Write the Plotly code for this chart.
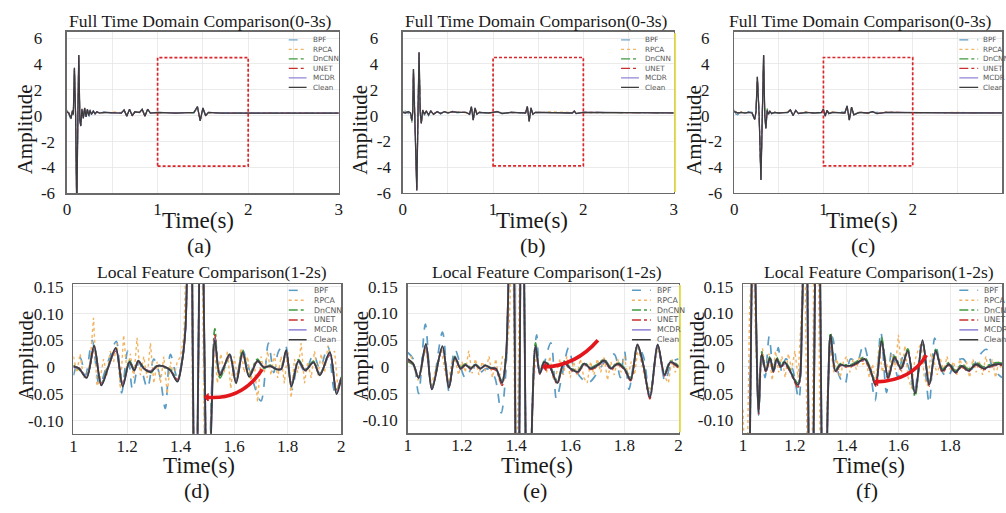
import plotly.graph_objects as go

W, H = 1006, 513

# ======================= DATA =======================
methods = ["BPF", "RPCA", "DnCNN", "UNET", "MCDR", "Clean"]

# ---- panel (a): full time domain 0-3 s ----
t_a = [0.000, 0.020, 0.045, 0.060, 0.070, 0.082, 0.095, 0.108, 0.120, 0.130, 0.142, 0.152, 0.165, 0.180,
       0.195, 0.210, 0.225, 0.240, 0.255, 0.270, 0.290, 0.310, 0.330, 0.360, 0.400, 0.500, 0.600, 0.630,
       0.660, 0.690, 0.720, 0.750, 0.800, 0.830, 0.860, 0.890, 0.920, 1.000, 1.200, 1.400, 1.440, 1.470,
       1.500, 1.530, 1.560, 1.700, 2.000, 2.500, 3.000]
bpf_a = [0.45, 0.10, -0.35, 0.30, 0.20, 3.50, -0.10, -7.30, 0.10, 4.50, -0.40, -0.70, 0.40, -0.30, 0.50, -0.20,
         0.40, -0.30, 0.50, 0.00, 0.40, 0.10, 0.35, 0.15, 0.30, 0.20, 0.25, 0.40, 0.00, 0.45, 0.05, 0.30, 0.20,
         0.45, 0.00, 0.45, 0.25, 0.20, 0.25, 0.20, 0.60, -0.30, 0.55, 0.05, 0.20, 0.25, 0.20, 0.22, 0.20]
rpca_a = [0.35, 0.25, -0.10, 0.35, 0.15, 3.60, 0.05, -7.40, 0.05, 4.60, -0.25, -0.75, 0.45, -0.15, 0.55, -0.05,
          0.45, 0.05, 0.35, 0.15, 0.30, 0.20, 0.25, 0.25, 0.20, 0.30, 0.25, 0.40, 0.00, 0.45, 0.05, 0.25, 0.30,
          0.45, 0.00, 0.45, 0.25, 0.20, 0.25, 0.20, 0.65, -0.35, 0.55, 0.05, 0.20, 0.25, 0.20, 0.25, 0.20]
dncnn_a = [0.30, 0.22, -0.25, 0.45, 0.05, 3.65, 0.00, -7.50, 0.00, 4.65, -0.35, -0.75, 0.55, -0.15, 0.55, -0.05,
           0.45, 0.05, 0.40, 0.15, 0.30, 0.20, 0.28, 0.22, 0.25, 0.24, 0.22, 0.42, 0.00, 0.48, 0.02, 0.30, 0.24,
           0.48, 0.00, 0.48, 0.22, 0.24, 0.21, 0.24, 0.68, -0.38, 0.58, 0.02, 0.24, 0.21, 0.22, 0.21, 0.20]
unet_a = [0.28, 0.20, -0.22, 0.38, 0.12, 3.68, 0.00, -7.50, 0.00, 4.68, -0.32, -0.78, 0.48, -0.18, 0.58, -0.08,
          0.48, 0.02, 0.38, 0.12, 0.33, 0.17, 0.29, 0.21, 0.25, 0.25, 0.21, 0.44, -0.03, 0.49, 0.01, 0.29, 0.25,
          0.49, -0.03, 0.49, 0.21, 0.25, 0.21, 0.25, 0.69, -0.39, 0.59, 0.01, 0.25, 0.21, 0.22, 0.20, 0.20]
mcdr_a = [0.30, 0.20, -0.21, 0.40, 0.10, 3.70, 0.00, -7.50, 0.00, 4.70, -0.30, -0.80, 0.50, -0.20, 0.59, -0.10,
          0.50, 0.00, 0.40, 0.10, 0.35, 0.15, 0.30, 0.20, 0.25, 0.25, 0.20, 0.45, -0.05, 0.50, 0.00, 0.30, 0.25,
          0.50, -0.05, 0.50, 0.20, 0.25, 0.20, 0.25, 0.70, -0.40, 0.60, 0.00, 0.25, 0.20, 0.22, 0.20, 0.20]
clean_a = [0.30, 0.20, -0.20, 0.40, 0.10, 3.70, 0.00, -7.50, 0.00, 4.70, -0.30, -0.80, 0.50, -0.20, 0.60, -0.10,
           0.50, 0.00, 0.40, 0.10, 0.35, 0.15, 0.30, 0.20, 0.25, 0.25, 0.20, 0.45, -0.05, 0.50, 0.00, 0.30, 0.25,
           0.50, -0.05, 0.50, 0.20, 0.25, 0.20, 0.25, 0.70, -0.40, 0.60, 0.00, 0.25, 0.20, 0.22, 0.20, 0.20]

# ---- panel (b) ----
t_b = [0.000, 0.030, 0.060, 0.085, 0.100, 0.110, 0.118, 0.135, 0.155, 0.168, 0.180, 0.193, 0.205, 0.220,
       0.240, 0.260, 0.285, 0.310, 0.340, 0.380, 0.420, 0.460, 0.500, 0.550, 0.600, 0.700, 0.740, 0.760,
       0.780, 0.800, 0.820, 0.850, 0.950, 1.050, 1.100, 1.200, 1.360, 1.380, 1.400, 1.420, 1.440, 1.470,
       1.600, 1.880, 1.900, 1.920, 2.000, 2.500, 3.000]
bpf_b = [0.30, 0.35, 0.15, 0.35, -0.30, 0.20, 3.40, 0.10, -5.60, 0.10, 4.70, 0.30, -0.50, 0.50, 0.00, 0.45,
         -0.05, 0.40, 0.05, 0.35, 0.10, 0.35, 0.15, 0.35, 0.20, 0.25, 0.15, 0.60, -0.25, 0.50, 0.15, 0.20, 0.25,
         0.25, 0.20, 0.25, 0.20, 0.60, -0.35, 0.50, 0.15, 0.20, 0.25, 0.20, 0.30, 0.20, 0.25, 0.20, 0.20]
rpca_b = [0.30, 0.25, 0.35, 0.15, -0.35, 0.25, 3.50, 0.05, -5.70, 0.05, 4.80, 0.25, -0.55, 0.45, 0.15, 0.30,
          0.10, 0.30, 0.15, 0.25, 0.20, 0.25, 0.25, 0.25, 0.30, 0.20, 0.15, 0.65, -0.30, 0.55, 0.15, 0.30, 0.15,
          0.35, 0.20, 0.20, 0.25, 0.65, -0.40, 0.55, 0.15, 0.20, 0.30, 0.25, 0.30, 0.20, 0.20, 0.25, 0.20]
dncnn_b = [0.25, 0.22, 0.32, 0.18, -0.55, 0.35, 3.55, 0.00, -5.75, 0.00, 4.85, 0.22, -0.62, 0.42, 0.12, 0.33,
           0.07, 0.33, 0.12, 0.29, 0.17, 0.29, 0.21, 0.29, 0.25, 0.25, 0.12, 0.68, -0.33, 0.58, 0.12, 0.25, 0.21,
           0.29, 0.17, 0.25, 0.21, 0.68, -0.43, 0.58, 0.12, 0.25, 0.24, 0.21, 0.33, 0.17, 0.24, 0.22, 0.20]
unet_b = [0.24, 0.21, 0.29, 0.21, -0.42, 0.31, 3.58, 0.00, -5.80, 0.00, 4.88, 0.21, -0.61, 0.41, 0.11, 0.34,
          0.06, 0.34, 0.11, 0.30, 0.16, 0.30, 0.20, 0.30, 0.25, 0.25, 0.11, 0.69, -0.34, 0.59, 0.11, 0.25, 0.20,
          0.30, 0.16, 0.25, 0.20, 0.69, -0.44, 0.59, 0.11, 0.25, 0.25, 0.20, 0.34, 0.16, 0.25, 0.22, 0.20]
mcdr_b = [0.25, 0.20, 0.30, 0.20, -0.41, 0.30, 3.60, 0.00, -5.80, 0.00, 4.90, 0.20, -0.60, 0.40, 0.10, 0.35,
          0.05, 0.35, 0.10, 0.30, 0.15, 0.30, 0.20, 0.30, 0.25, 0.25, 0.10, 0.70, -0.35, 0.60, 0.10, 0.25, 0.20,
          0.30, 0.15, 0.25, 0.20, 0.70, -0.45, 0.60, 0.10, 0.25, 0.25, 0.20, 0.35, 0.15, 0.25, 0.22, 0.20]
clean_b = [0.25, 0.20, 0.30, 0.20, -0.40, 0.30, 3.60, 0.00, -5.80, 0.00, 4.90, 0.20, -0.60, 0.40, 0.10, 0.35,
           0.05, 0.35, 0.10, 0.30, 0.15, 0.30, 0.20, 0.30, 0.25, 0.25, 0.10, 0.70, -0.35, 0.60, 0.10, 0.25, 0.20,
           0.30, 0.15, 0.25, 0.20, 0.70, -0.45, 0.60, 0.10, 0.25, 0.25, 0.20, 0.35, 0.15, 0.25, 0.22, 0.20]

# ---- panel (c) ----
t_c = [0.000, 0.020, 0.040, 0.080, 0.120, 0.160, 0.200, 0.230, 0.245, 0.260, 0.280, 0.300, 0.315, 0.330,
       0.343, 0.355, 0.370, 0.385, 0.400, 0.420, 0.450, 0.500, 0.600, 0.630, 0.660, 0.690, 0.720, 0.800,
       0.900, 0.980, 1.000, 1.020, 1.040, 1.060, 1.100, 1.200, 1.240, 1.265, 1.290, 1.315, 1.340, 1.400,
       1.500, 1.550, 1.600, 1.700, 2.000, 2.500, 3.000]
bpf_c = [0.45, 0.10, 0.05, 0.30, 0.15, 0.30, 0.25, -0.20, 0.20, 2.85, 0.10, -4.85, 0.10, 4.55, 0.10, -0.90,
         0.30, 0.20, 0.30, 0.20, 0.20, 0.25, 0.20, 0.40, 0.05, 0.35, 0.20, 0.20, 0.25, 0.20, 0.45, 0.00, 0.35,
         0.20, 0.20, 0.30, 0.25, 0.65, -0.25, 0.55, 0.10, 0.20, 0.25, 0.25, 0.20, 0.20, 0.25, 0.20, 0.20]
rpca_c = [0.35, 0.30, 0.15, 0.30, 0.25, 0.20, 0.25, -0.25, 0.25, 2.90, 0.05, -4.90, 0.15, 4.60, 0.05, -0.95,
          0.35, 0.15, 0.30, 0.20, 0.30, 0.15, 0.30, 0.40, 0.05, 0.35, 0.20, 0.30, 0.15, 0.30, 0.45, 0.00, 0.35,
          0.20, 0.30, 0.20, 0.25, 0.70, -0.30, 0.60, 0.10, 0.30, 0.15, 0.25, 0.20, 0.30, 0.20, 0.25, 0.20]
dncnn_c = [0.32, 0.24, 0.22, 0.24, 0.21, 0.24, 0.21, -0.28, 0.32, 2.95, 0.02, -4.95, 0.22, 4.65, 0.02, -0.95,
           0.55, 0.12, 0.33, 0.17, 0.24, 0.21, 0.24, 0.43, 0.02, 0.38, 0.17, 0.24, 0.21, 0.24, 0.48, -0.03, 0.38,
           0.17, 0.24, 0.24, 0.21, 0.72, -0.33, 0.63, 0.07, 0.24, 0.21, 0.29, 0.17, 0.24, 0.22, 0.20, 0.20]
unet_c = [0.29, 0.25, 0.21, 0.25, 0.21, 0.25, 0.21, -0.29, 0.29, 2.98, 0.01, -4.98, 0.21, 4.68, 0.01, -0.98,
          0.39, 0.11, 0.34, 0.16, 0.25, 0.21, 0.25, 0.44, 0.01, 0.39, 0.16, 0.25, 0.21, 0.25, 0.49, -0.04, 0.39,
          0.16, 0.25, 0.25, 0.21, 0.74, -0.34, 0.64, 0.06, 0.25, 0.21, 0.29, 0.16, 0.25, 0.22, 0.20, 0.20]
mcdr_c = [0.30, 0.25, 0.20, 0.25, 0.20, 0.25, 0.20, -0.30, 0.30, 3.00, 0.00, -5.00, 0.20, 4.70, 0.00, -1.00,
          0.40, 0.10, 0.35, 0.15, 0.25, 0.20, 0.25, 0.45, 0.00, 0.40, 0.15, 0.25, 0.20, 0.25, 0.50, -0.05, 0.40,
          0.15, 0.25, 0.25, 0.20, 0.75, -0.35, 0.65, 0.05, 0.25, 0.20, 0.30, 0.15, 0.25, 0.22, 0.20, 0.20]
clean_c = [0.30, 0.25, 0.20, 0.25, 0.20, 0.25, 0.20, -0.30, 0.30, 3.00, 0.00, -5.00, 0.20, 4.70, 0.00, -1.00,
           0.40, 0.10, 0.35, 0.15, 0.25, 0.20, 0.25, 0.45, 0.00, 0.40, 0.15, 0.25, 0.20, 0.25, 0.50, -0.05, 0.40,
           0.15, 0.25, 0.25, 0.20, 0.75, -0.35, 0.65, 0.05, 0.25, 0.20, 0.30, 0.15, 0.25, 0.22, 0.20, 0.20]

# ---- RPCA sampling grid for the local (1-2 s) panels ----
t_rpca = [round(1 + 0.0125 * i, 4) for i in range(81)]

# ---- panel (d): local 1-2 s ----
t_d = [1.000, 1.020, 1.049, 1.077, 1.104, 1.130, 1.158, 1.184, 1.209, 1.227, 1.242, 1.262, 1.288, 1.312,
       1.335, 1.362, 1.388, 1.405, 1.418, 1.428, 1.437, 1.446, 1.455, 1.466, 1.477, 1.490, 1.502, 1.515,
       1.528, 1.547, 1.583, 1.607, 1.632, 1.656, 1.687, 1.710, 1.735, 1.755, 1.775, 1.794, 1.814, 1.840,
       1.865, 1.896, 1.920, 1.957, 1.982, 2.000]
clean_d = [0.001, -0.002, -0.020, 0.040, -0.034, 0.000, 0.036, -0.036, 0.010, -0.006, 0.012, -0.002, -0.009,
           0.002, 0.002, -0.006, -0.027, 0.009, 0.070, 0.300, 0.450, 0.000, -0.450, 0.000, 0.420, 0.000, -0.380,
           -0.100, 0.050, -0.015, 0.024, -0.030, 0.028, -0.018, 0.012, 0.000, 0.002, -0.003, -0.004, 0.032,
           -0.036, 0.012, -0.006, 0.009, -0.015, 0.028, -0.050, -0.020]
dncnn_d = [0.004, -0.004, -0.016, 0.036, -0.030, 0.003, 0.032, -0.032, 0.013, -0.004, 0.010, 0.000, -0.011,
           0.004, 0.000, -0.004, -0.024, 0.011, 0.072, 0.300, 0.450, 0.000, -0.450, 0.000, 0.420, 0.000, -0.380,
           -0.090, 0.072, -0.020, 0.020, -0.026, 0.032, -0.014, 0.015, -0.002, 0.004, -0.005, -0.002, 0.028,
           -0.032, 0.014, -0.004, 0.011, -0.012, 0.024, -0.045, -0.018]
unet_d = [0.002, -0.001, -0.017, 0.032, -0.030, 0.001, 0.030, -0.030, 0.008, -0.004, 0.010, -0.001, -0.007,
          0.003, 0.001, -0.005, -0.023, 0.008, 0.068, 0.300, 0.450, 0.000, -0.450, 0.000, 0.420, 0.000, -0.380,
          -0.095, 0.060, -0.012, 0.020, -0.025, 0.024, -0.015, 0.010, 0.001, 0.002, -0.002, -0.003, 0.026,
          -0.030, 0.010, -0.005, 0.008, -0.012, 0.022, -0.042, -0.018]
mcdr_d = [0.000, -0.002, -0.019, 0.038, -0.033, 0.000, 0.034, -0.034, 0.009, -0.006, 0.011, -0.002, -0.008,
          0.002, 0.002, -0.006, -0.026, 0.009, 0.070, 0.300, 0.450, 0.000, -0.450, 0.000, 0.420, 0.000, -0.380,
          -0.100, 0.052, -0.014, 0.022, -0.028, 0.026, -0.017, 0.011, 0.000, 0.002, -0.003, -0.004, 0.030,
          -0.034, 0.011, -0.006, 0.009, -0.014, 0.026, -0.048, -0.020]
t_bpf_d = [1.000, 1.025, 1.045, 1.070, 1.097, 1.129, 1.160, 1.180, 1.202, 1.221, 1.245, 1.276, 1.300, 1.322,
           1.343, 1.362, 1.388, 1.405, 1.418, 1.434, 1.456, 1.476, 1.500, 1.515, 1.528, 1.547, 1.583, 1.607,
           1.632, 1.660, 1.700, 1.728, 1.748, 1.766, 1.790, 1.816, 1.840, 1.865, 1.896, 1.920, 1.950, 1.976, 2.000]
bpf_d = [-0.015, 0.018, -0.015, 0.050, -0.033, 0.010, 0.048, -0.048, 0.030, -0.042, 0.009, -0.039, 0.015,
         -0.015, -0.077, 0.024, -0.020, 0.010, 0.070, 0.550, -0.550, 0.500, -0.500, -0.050, 0.055, -0.010, 0.024,
         -0.020, 0.030, -0.010, -0.063, 0.045, -0.010, 0.030, 0.042, -0.042, 0.009, -0.009, 0.024, -0.003, 0.039,
         -0.045, -0.020]
rpca_d = [0.020, -0.010, 0.025, -0.020, -0.015, 0.010, 0.092, -0.035, -0.020, 0.015, -0.015, 0.030, 0.010,
          0.045, -0.040, 0.060, -0.010, 0.025, -0.020, 0.055, -0.015, 0.020, -0.020, 0.045, -0.030, 0.010,
          -0.030, 0.020, -0.050, 0.010, -0.020, 0.010, 0.020, 0.060, 0.300, 0.400, -0.450, -0.300, 0.450,
          -0.100, -0.400, -0.100, 0.040, -0.030, 0.025, -0.010, 0.030, -0.040, 0.020, -0.020, 0.035, -0.010,
          0.020, -0.025, 0.010, -0.065, 0.020, -0.010, 0.030, -0.015, 0.025, -0.020, 0.020, -0.030, 0.030,
          -0.057, 0.015, -0.010, 0.045, -0.030, 0.010, -0.020, 0.030, -0.015, 0.025, -0.010, 0.040, 0.020,
          0.030, -0.040, -0.020]

# ---- panel (e) ----
t_e = [1.000, 1.020, 1.040, 1.067, 1.089, 1.128, 1.152, 1.174, 1.195, 1.213, 1.232, 1.250, 1.268, 1.287,
       1.305, 1.325, 1.348, 1.362, 1.370, 1.385, 1.405, 1.422, 1.445, 1.460, 1.472, 1.488, 1.504, 1.525,
       1.552, 1.577, 1.600, 1.628, 1.652, 1.676, 1.700, 1.726, 1.750, 1.775, 1.799, 1.823, 1.848, 1.870,
       1.894, 1.923, 1.948, 1.970, 2.000]
clean_e = [0.015, 0.006, -0.021, 0.043, -0.042, 0.039, -0.039, 0.018, -0.003, 0.004, -0.003, 0.004, -0.003,
           0.003, -0.002, -0.003, -0.030, 0.015, 0.120, 0.550, -0.500, 0.450, -0.500, -0.080, 0.039, -0.012,
           0.009, 0.000, -0.030, 0.009, -0.003, -0.009, 0.006, -0.003, 0.003, 0.012, -0.003, 0.006, -0.003,
           -0.024, 0.042, 0.003, -0.057, 0.042, -0.015, 0.009, 0.000]
dncnn_e = [0.010, 0.004, -0.018, 0.040, -0.038, 0.036, -0.036, 0.020, -0.001, 0.006, -0.001, 0.005, -0.002,
           0.004, -0.001, -0.004, -0.026, 0.017, 0.120, 0.550, -0.500, 0.450, -0.500, -0.070, 0.045, -0.009,
           0.011, 0.002, -0.026, 0.011, -0.001, -0.007, 0.008, -0.001, 0.005, 0.014, -0.001, 0.008, -0.001,
           -0.020, 0.038, 0.005, -0.052, 0.038, -0.012, 0.011, 0.002]
unet_e = [0.012, 0.005, -0.019, 0.038, -0.040, 0.035, -0.037, 0.016, -0.004, 0.003, -0.004, 0.003, -0.004,
          0.002, -0.003, -0.006, -0.035, 0.012, 0.120, 0.550, -0.500, 0.450, -0.500, -0.085, 0.035, -0.014,
          0.007, -0.002, -0.032, 0.007, -0.005, -0.011, 0.004, -0.005, 0.001, 0.010, -0.005, 0.004, -0.005,
          -0.026, 0.040, 0.001, -0.060, 0.040, -0.017, 0.007, -0.002]
mcdr_e = [0.014, 0.006, -0.020, 0.041, -0.041, 0.038, -0.038, 0.018, -0.003, 0.004, -0.003, 0.004, -0.003,
          0.003, -0.002, -0.003, -0.029, 0.015, 0.120, 0.550, -0.500, 0.450, -0.500, -0.080, 0.038, -0.012,
          0.009, 0.000, -0.029, 0.009, -0.003, -0.009, 0.006, -0.003, 0.003, 0.012, -0.003, 0.006, -0.003,
          -0.023, 0.041, 0.003, -0.056, 0.041, -0.015, 0.009, 0.000]
t_bpf_e = [1.000, 1.020, 1.040, 1.065, 1.089, 1.128, 1.152, 1.174, 1.213, 1.240, 1.262, 1.290, 1.320, 1.345,
           1.362, 1.370, 1.385, 1.405, 1.422, 1.445, 1.460, 1.476, 1.490, 1.528, 1.549, 1.570, 1.594, 1.615,
           1.665, 1.695, 1.726, 1.762, 1.785, 1.800, 1.817, 1.848, 1.870, 1.894, 1.923, 1.950, 1.975, 2.000]
bpf_e = [0.027, 0.015, -0.050, 0.080, -0.042, 0.065, -0.045, 0.033, -0.021, 0.000, -0.012, -0.003, -0.018,
         -0.086, -0.010, 0.120, 0.550, -0.500, 0.450, -0.500, -0.080, 0.060, -0.015, 0.045, -0.060, -0.015,
         0.036, -0.003, -0.030, -0.015, 0.009, 0.024, -0.020, 0.030, -0.042, 0.039, 0.020, -0.057, 0.042,
         -0.027, 0.009, 0.015]
rpca_e = [0.010, 0.020, -0.005, -0.025, -0.010, 0.035, 0.010, -0.035, -0.010, 0.015, 0.030, -0.010, -0.030,
          0.010, 0.015, -0.015, 0.010, -0.010, 0.030, -0.012, 0.015, -0.015, 0.010, -0.008, 0.020, -0.020,
          0.015, -0.025, 0.020, 0.010, 0.080, 0.300, -0.400, 0.200, 0.350, -0.300, -0.400, -0.050, 0.030,
          -0.015, 0.010, -0.010, 0.020, -0.025, -0.010, 0.015, -0.015, 0.020, -0.020, 0.010, -0.015, 0.015,
          -0.020, -0.030, 0.010, -0.015, 0.015, -0.010, 0.020, -0.025, 0.010, -0.015, 0.015, -0.010, 0.020,
          -0.020, 0.010, -0.015, 0.035, 0.010, -0.020, -0.035, -0.045, 0.010, 0.040, 0.010, -0.020, -0.030,
          0.015, -0.010, 0.010]

# ---- panel (f) ----
t_f = [1.000, 1.015, 1.040, 1.060, 1.072, 1.088, 1.104, 1.117, 1.130, 1.146, 1.160, 1.180, 1.212, 1.228,
       1.240, 1.262, 1.288, 1.313, 1.328, 1.338, 1.357, 1.375, 1.395, 1.420, 1.445, 1.469, 1.490, 1.512,
       1.535, 1.560, 1.585, 1.610, 1.636, 1.664, 1.693, 1.719, 1.744, 1.770, 1.795, 1.820, 1.845, 1.870,
       1.900, 1.930, 1.955, 1.980, 2.000]
clean_f = [-0.250, -0.500, 0.300, -0.085, 0.024, -0.008, 0.017, -0.008, 0.015, 0.000, 0.009, -0.006, -0.034,
           0.100, 0.550, -0.500, 0.500, -0.500, -0.050, 0.060, -0.008, 0.004, 0.002, 0.003, 0.009, 0.015,
           -0.003, -0.033, 0.048, -0.020, 0.018, -0.003, 0.030, -0.050, 0.050, -0.033, 0.030, -0.007, 0.005,
           -0.010, 0.002, -0.007, 0.005, -0.003, 0.002, 0.005, 0.005]
dncnn_f = [-0.250, -0.500, 0.300, -0.080, 0.028, -0.005, 0.020, -0.005, 0.018, 0.003, 0.011, -0.003, -0.030,
           0.100, 0.550, -0.500, 0.500, -0.500, -0.045, 0.064, -0.005, 0.006, 0.004, 0.005, 0.012, 0.018,
           0.000, -0.030, 0.055, -0.017, 0.020, 0.000, 0.034, -0.055, 0.046, -0.030, 0.033, -0.004, 0.008,
           -0.007, 0.005, -0.004, 0.008, 0.000, 0.005, 0.008, 0.007]
unet_f = [-0.250, -0.500, 0.300, -0.088, 0.020, -0.010, 0.014, -0.010, 0.012, -0.002, 0.006, -0.008, -0.038,
          0.100, 0.550, -0.500, 0.500, -0.500, -0.055, 0.055, -0.010, 0.002, 0.000, 0.001, 0.007, 0.012,
          -0.006, -0.036, 0.044, -0.023, 0.015, -0.006, 0.027, -0.047, 0.047, -0.036, 0.027, -0.010, 0.003,
          -0.012, 0.000, -0.009, 0.003, -0.005, 0.000, 0.003, 0.003]
mcdr_f = [-0.250, -0.500, 0.300, -0.084, 0.023, -0.008, 0.016, -0.008, 0.014, 0.000, 0.009, -0.006, -0.033,
          0.100, 0.550, -0.500, 0.500, -0.500, -0.050, 0.058, -0.008, 0.004, 0.002, 0.003, 0.009, 0.014,
          -0.003, -0.032, 0.046, -0.019, 0.017, -0.003, 0.029, -0.048, 0.048, -0.032, 0.029, -0.007, 0.005,
          -0.010, 0.002, -0.007, 0.005, -0.003, 0.002, 0.005, 0.005]
t_bpf_f = [1.000, 1.015, 1.040, 1.060, 1.072, 1.085, 1.101, 1.118, 1.136, 1.150, 1.165, 1.190, 1.215, 1.228,
           1.240, 1.262, 1.288, 1.313, 1.330, 1.345, 1.370, 1.393, 1.415, 1.440, 1.465, 1.490, 1.510, 1.532,
           1.554, 1.575, 1.598, 1.618, 1.640, 1.661, 1.690, 1.719, 1.740, 1.765, 1.790, 1.820, 1.850, 1.880,
           1.910, 1.940, 1.965, 2.000]
bpf_f = [-0.200, -0.450, 0.300, -0.090, 0.027, -0.020, 0.057, -0.015, 0.036, -0.010, 0.015, -0.002, -0.060,
         0.100, 0.550, -0.500, 0.500, -0.500, -0.020, 0.056, -0.015, -0.033, 0.015, 0.009, 0.042, -0.005,
         -0.063, 0.066, -0.048, 0.033, -0.020, 0.020, -0.002, -0.048, 0.042, -0.068, 0.054, -0.005, -0.020,
         0.010, 0.015, -0.005, 0.020, 0.033, -0.003, -0.020]
rpca_f = [-0.080, -0.300, 0.100, 0.250, 0.020, -0.050, 0.035, -0.010, 0.025, -0.025, 0.030, -0.010, 0.020,
          -0.020, 0.025, -0.005, 0.030, -0.020, 0.100, 0.300, -0.300, -0.400, 0.300, 0.400, -0.300, -0.400,
          -0.050, 0.040, -0.010, 0.015, -0.020, 0.010, 0.020, -0.010, 0.015, -0.005, 0.020, 0.005, 0.010,
          -0.020, 0.005, -0.030, 0.040, -0.010, 0.015, -0.010, 0.025, -0.005, 0.060, -0.010, 0.040, -0.020,
          -0.040, 0.010, 0.030, 0.045, -0.020, -0.035, 0.025, 0.010, -0.015, 0.015, -0.010, 0.020, -0.005,
          0.010, -0.015, 0.015, -0.005, 0.010, -0.020, 0.015, -0.010, 0.010, -0.015, 0.020, -0.010, 0.015,
          -0.020, 0.010, -0.005]

# ======================= STYLE / LAYOUT =======================
SERIF = "Liberation Serif, Times New Roman, serif"
SANS = "DejaVu Sans, Arial, sans-serif"
NB = "\u00a0"
colors = {"BPF": "#5a9cc4", "RPCA": "#f3b462", "DnCNN": "#3f9a3f",
          "UNET": "#c8312b", "MCDR": "#8b7fd6", "Clean": "#3d3d3d"}
dashes = {"BPF": "dash", "RPCA": "dot", "DnCNN": "dashdot",
          "UNET": "dashdot", "MCDR": "solid", "Clean": "solid"}
w_top = {"BPF": 1.1, "RPCA": 1.1, "DnCNN": 1.1, "UNET": 1.1, "MCDR": 1.2, "Clean": 1.3}
w_bot = {"BPF": 1.7, "RPCA": 1.4, "DnCNN": 1.7, "UNET": 1.4, "MCDR": 1.9, "Clean": 1.8}

# panel boxes in pixels: (left, right, top, bottom)
boxes = {
    "a": (63.5, 337.5, 26.5, 193.3),
    "b": (402.0, 675.0, 26.5, 193.0),
    "c": (736.0, 1006.0, 26.5, 193.0),
    "d": (70.0, 340.0, 287.0, 441.5),
    "e": (407.0, 680.0, 287.0, 441.0),
    "f": (745.0, 1006.0, 287.0, 441.0),
}
keys = ["a", "b", "c", "d", "e", "f"]

top_data = {
    "a": (t_a, {"BPF": bpf_a, "RPCA": rpca_a, "DnCNN": dncnn_a, "UNET": unet_a, "MCDR": mcdr_a, "Clean": clean_a}),
    "b": (t_b, {"BPF": bpf_b, "RPCA": rpca_b, "DnCNN": dncnn_b, "UNET": unet_b, "MCDR": mcdr_b, "Clean": clean_b}),
    "c": (t_c, {"BPF": bpf_c, "RPCA": rpca_c, "DnCNN": dncnn_c, "UNET": unet_c, "MCDR": mcdr_c, "Clean": clean_c}),
}
bot_data = {
    "d": {"BPF": (t_bpf_d, bpf_d), "RPCA": (t_rpca, rpca_d), "DnCNN": (t_d, dncnn_d),
          "UNET": (t_d, unet_d), "MCDR": (t_d, mcdr_d), "Clean": (t_d, clean_d)},
    "e": {"BPF": (t_bpf_e, bpf_e), "RPCA": (t_rpca, rpca_e), "DnCNN": (t_e, dncnn_e),
          "UNET": (t_e, unet_e), "MCDR": (t_e, mcdr_e), "Clean": (t_e, clean_e)},
    "f": {"BPF": (t_bpf_f, bpf_f), "RPCA": (t_rpca, rpca_f), "DnCNN": (t_f, dncnn_f),
          "UNET": (t_f, unet_f), "MCDR": (t_f, mcdr_f), "Clean": (t_f, clean_f)},
}


def px(x):
    return x / W


def py(y):
    return 1 - y / H


fig = go.Figure()
layout = dict(width=W, height=H, margin=dict(l=0, r=0, t=0, b=0, pad=0), autosize=False,
              paper_bgcolor="white", plot_bgcolor="white", showlegend=False, hovermode=False)
shapes, annotations = [], []

for i, k in enumerate(keys):
    n = "" if i == 0 else str(i + 1)
    L, R, T, B = boxes[k]
    top = k in top_data
    xa = dict(domain=[px(L), px(R)], anchor="y" + n, showgrid=True, gridcolor="#e6e6e6", gridwidth=0.8,
              zeroline=False, showline=True, mirror=True, linecolor="#6a6a6a", linewidth=1.5, ticks="",
              tickfont=dict(family=SERIF, size=17, color="#1a1a1a"))
    ya = dict(domain=[py(B), py(T)], anchor="x" + n, showgrid=True, gridcolor="#e6e6e6", gridwidth=0.8,
              zeroline=False, showline=True, mirror=True, linecolor="#6a6a6a", linewidth=1.5, ticks="",
              tickfont=dict(family=SERIF, size=17, color="#1a1a1a"))
    if top:
        xa.update(range=[0, 3], tickmode="array", tickvals=[0, 0.5, 1, 1.5, 2, 2.5, 3],
                  ticktext=["0", "", "1", "", "2", "", "3"], ticklabelstandoff=0)
        ya.update(range=[-6, 6.5], tickmode="array", tickvals=[-6, -4, -2, 0, 2, 4, 6],
                  ticktext=["-6", "-4", "-2", "0" + NB * 3, "2" + NB * 3, "4" + NB * 3, "6" + NB * 3],
                  ticklabelstandoff=7)
        t, ser = top_data[k]
        for m in methods:
            fig.add_trace(go.Scatter(x=t, y=ser[m], mode="lines", name=m, xaxis="x" + n, yaxis="y" + n,
                                     line=dict(color=colors[m], dash=dashes[m], width=w_top[m])))
        # red dashed zoom box (1-2 s)
        shapes.append(dict(type="rect", xref="x" + n, yref="y" + n, x0=1, x1=2, y0=-3.9, y1=4.5,
                           line=dict(color="#d9262b", width=1.7, dash="3px,2px"), layer="above"))
    else:
        xa.update(range=[1, 2], tickmode="array", tickvals=[1, 1.2, 1.4, 1.6, 1.8, 2],
                  ticktext=["1", "1.2", "1.4", "1.6", "1.8", "2"], ticklabelstandoff=-4)
        ya.update(range=[-0.124, 0.155], tickmode="array", tickvals=[-0.10, -0.05, 0, 0.05, 0.10, 0.15],
                  ticktext=["-0.10", "-0.05", "0" + NB * 2, "0.05", "0.10", "0.15"], ticklabelstandoff=5)
        for m in methods:
            tt, vv = bot_data[k][m]
            shape = "linear" if m == "RPCA" else "spline"
            fig.add_trace(go.Scatter(x=tt, y=vv, mode="lines", name=m, xaxis="x" + n, yaxis="y" + n,
                                     line=dict(color=colors[m], dash=dashes[m], width=w_bot[m],
                                               shape=shape, smoothing=0.9 if shape == "spline" else None)))
    layout["xaxis" + n] = xa
    layout["yaxis" + n] = ya

# ---- curved red arrows in local panels (data coordinates) ----
arrows = {
    "d": ((1.497, -0.056), (1.63, -0.062), (1.705, -0.004)),
    "e": ((1.505, 0.000), (1.62, 0.002), (1.702, 0.050)),
    "f": ((1.514, -0.028), (1.65, -0.026), (1.708, 0.022)),
}
for k, (p0, c, p1) in arrows.items():
    n = str(keys.index(k) + 1)
    shapes.append(dict(type="path", xref="x" + n, yref="y" + n,
                       path=f"M {p0[0]},{p0[1]} Q {c[0]},{c[1]} {p1[0]},{p1[1]}",
                       line=dict(color="#e3161c", width=3.6), layer="above"))
    shapes.append(dict(type="path", xref="x" + n, yref="y" + n,
                       path=f"M {p0[0]-0.008},{p0[1]} L {p0[0]+0.006},{p0[1]+0.007} "
                            f"L {p0[0]+0.006},{p0[1]-0.007} Z",
                       line=dict(color="#e3161c", width=1), fillcolor="#e3161c", layer="above"))

# ---- manual compact legends ----
leg_top_y = [35.0, 44.8, 54.6, 64.4, 74.2, 84.0]
leg_bot_y = [293.5, 303.7, 313.9, 324.1, 334.3, 344.5]
legends = [
    (287, 305, 309, leg_top_y, 7.2, w_top),
    (622, 640, 644, leg_top_y, 7.2, w_top),
    (963, 982, 985, leg_top_y, 7.2, w_top),
    (287, 305, 310, leg_bot_y, 7.8, w_bot),
    (633, 652, 656, leg_bot_y, 7.8, w_bot),
    (963, 982, 986, leg_bot_y, 7.8, w_bot),
]
for (lx0, lx1, tx, ys, fs, ww) in legends:
    for m, yy in zip(methods, ys):
        shapes.append(dict(type="line", xref="paper", yref="paper", x0=px(lx0), x1=px(lx1),
                           y0=py(yy), y1=py(yy),
                           line=dict(color=colors[m], width=min(ww[m], 1.5), dash=dashes[m])))
        annotations.append(dict(text=m, x=px(tx), y=py(yy), xref="paper", yref="paper", showarrow=False,
                                xanchor="left", yanchor="middle",
                                font=dict(family=SANS, size=fs, color="#555555")))


# ---- texts: titles, axis titles, panel letters ----
def txt(s, x, y, size, angle=0):
    annotations.append(dict(text=s, x=px(x), y=py(y), xref="paper", yref="paper", showarrow=False,
                            xanchor="center", yanchor="middle", textangle=angle, borderpad=0,
                            font=dict(family=SERIF, size=size, color="#1a1a1a")))


for x in (198, 537, 863):
    txt("Full Time Domain Comparison(0-3s)", x, 15, 17.6)
for x in (210, 547, 882):
    txt("Local Feature Comparison(1-2s)", x, 275, 17.6)
for x in (196, 532, 865):
    txt("Time(s)", x, 221, 23)
for x in (197, 537, 872):
    txt("Time(s)", x, 474, 23)
for s, x in (("(a)", 197), ("(b)", 533), ("(c)", 866)):
    txt(s, x, 247, 22)
for s, x in (("(d)", 195), ("(e)", 535), ("(f)", 870)):
    txt(s, x, 500, 22)
for x in (21, 358, 695):
    txt("Amplitude", x, 127.5, 21, -90)
for x in (22, 360, 698):
    txt("Amplitude", x, 361, 21, -90)

# scanning artefacts: thin yellow edges
shapes.append(dict(type="line", xref="paper", yref="paper", x0=px(676.5), x1=px(676.5), y0=py(192), y1=py(28),
                   line=dict(color="#e6df5a", width=2)))
shapes.append(dict(type="line", xref="paper", yref="paper", x0=px(681.5), x1=px(681.5), y0=py(440), y1=py(288),
                   line=dict(color="#e6df5a", width=2)))

layout["shapes"] = shapes
layout["annotations"] = annotations
fig.update_layout(**layout)
fig.write_html("out.html", config={"responsive": False, "displayModeBar": False, "staticPlot": True},
               post_script="document.body.style.margin='0';document.body.style.padding='0';"
                           "document.documentElement.style.margin='0';")
